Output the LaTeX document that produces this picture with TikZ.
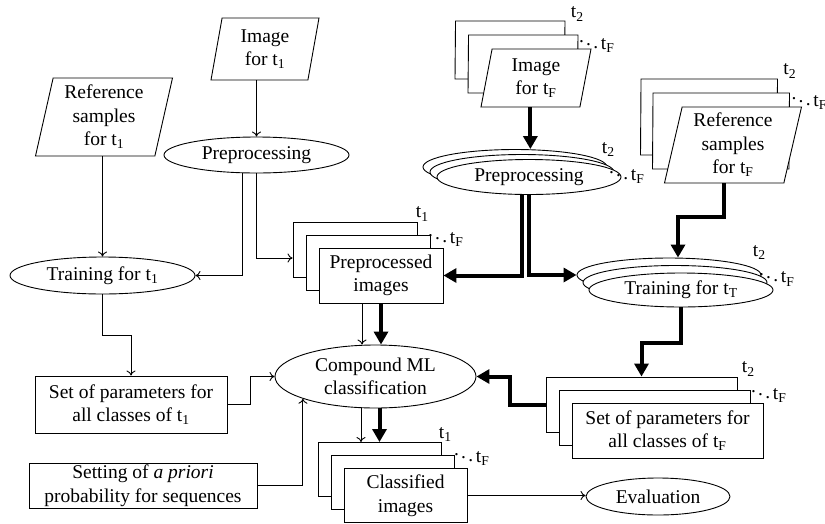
\documentclass[tikz,border=0pt]{standalone}
\usepackage{fontspec}
\setmainfont{Liberation Serif}
\usetikzlibrary{shapes.geometric,arrows.meta}

\begin{document}
\begin{tikzpicture}[
x=1pt,y=-1pt,
line width=0.9pt,
font=\fontsize{19.5}{23.5}\selectfont,
io/.style={draw,fill=white,trapezium,trapezium left angle=75,trapezium right angle=105,trapezium stretches body,align=center,inner sep=1pt},
proc/.style={draw,fill=white,ellipse,align=center,inner sep=0pt},
data/.style={draw,fill=white,rectangle,align=center,inner sep=1pt},
lbl/.style={inner sep=0pt},
arr/.style={draw,-{To[length=5pt,width=9pt]}},
bigarr/.style={draw,line width=4pt,-{Triangle[length=13pt,width=14pt]}}
]
\useasboundingbox (0,0) rectangle (825,523);

% single date t1
\node[io,minimum width=137pt,minimum height=78pt] (refA) at (104,117) {Reference\\samples\\for t\textsubscript{1}};
\node[io,minimum width=108pt,minimum height=62pt] (imgA) at (265,49) {Image\\for t\textsubscript{1}};
\node[proc,minimum width=185pt,minimum height=36pt] (preA) at (256.5,155) {Preprocessing};
\node[proc,minimum width=185pt,minimum height=37pt] (trA) at (102.5,275.5) {Training for t\textsubscript{1}};
\node[data,minimum width=192pt,minimum height=57pt] (setA) at (131,404.5) {Set of parameters for\\all classes of t\textsubscript{1}};
\node[data,minimum width=228pt,minimum height=45pt] (prior) at (143,485.5) {Setting of \textit{a priori}\\probability for sequences};

% stacks t2 ... tF
\node[io,minimum width=110pt,minimum height=58pt] (imgF3) at (510,50) {};
	\node[io,minimum width=110pt,minimum height=58pt] (imgF2) at (523,64) {};
		\node[io,minimum width=110pt,minimum height=58pt] (imgF) at (536,78) {Image\\for t\textsubscript{F}};
\node[proc,minimum width=184pt,minimum height=35pt] (preF3) at (515,167) {};
	\node[proc,minimum width=184pt,minimum height=35pt] (preF2) at (522,172) {};
		\node[proc,minimum width=184pt,minimum height=35pt] (preF) at (529,177) {Preprocessing};
\node[io,minimum width=137pt,minimum height=76pt] (refF3) at (709,117) {};
	\node[io,minimum width=137pt,minimum height=76pt] (refF2) at (721,131) {};
		\node[io,minimum width=137pt,minimum height=76pt] (refF) at (733,145) {Reference\\samples\\for t\textsubscript{F}};
\node[proc,minimum width=184pt,minimum height=34pt] (trT3) at (669,275) {};
	\node[proc,minimum width=184pt,minimum height=34pt] (trT2) at (675,282.5) {};
		\node[proc,minimum width=184pt,minimum height=34pt] (trT) at (681,290) {Training for t\textsubscript{T}};
\node[data,minimum width=191pt,minimum height=55pt] (spF3) at (641.5,404.5) {};
	\node[data,minimum width=191pt,minimum height=55pt] (spF2) at (654.5,417.5) {};
		\node[data,minimum width=191pt,minimum height=55pt] (spF) at (667.5,430.5) {Set of parameters for\\all classes of t\textsubscript{F}};

% stacks t1 ... tF
\node[data,minimum width=124pt,minimum height=55pt] (pp3) at (355,249.5) {};
	\node[data,minimum width=124pt,minimum height=55pt] (pp2) at (368,262.5) {};
		\node[data,minimum width=124pt,minimum height=55pt] (pp) at (381,275.5) {Preprocessed\\images};
\node[proc,minimum width=201pt,minimum height=63pt] (cml) at (375.5,376.5) {Compound ML\\classification};
\node[data,minimum width=123pt,minimum height=54pt] (cl3) at (379.5,469.5) {};
	\node[data,minimum width=123pt,minimum height=54pt] (cl2) at (392.5,482.5) {};
		\node[data,minimum width=123pt,minimum height=54pt] (cl) at (405.5,495.5) {Classified\\images};
\node[proc,minimum width=144pt,minimum height=37pt] (ev) at (658,496.5) {Evaluation};

% date labels
\node[lbl,anchor=south west] at ([xshift=5pt,yshift=-1pt]imgF3.top right corner) {t\textsubscript{2}};
\node[lbl,anchor=north west] at ([xshift=-1pt,yshift=2pt]imgF2.top right corner) {$\ddots$\hspace{1.5pt}t\textsubscript{F}};
\node[lbl,anchor=south west] at ([xshift=-6pt,yshift=10pt]preF3.east) {t\textsubscript{2}};
\node[lbl,anchor=west] at ([xshift=-7pt,yshift=-2pt]preF2.east) {$\ddots$\hspace{1.5pt}t\textsubscript{F}};
\node[lbl,anchor=south west] at ([xshift=5pt,yshift=0pt]refF3.top right corner) {t\textsubscript{2}};
\node[lbl,anchor=west] at ([xshift=0pt,yshift=-7pt]refF2.top right corner) {$\ddots$\hspace{1.5pt}t\textsubscript{F}};
\node[lbl,anchor=south west] at ([xshift=-9pt,yshift=15pt]trT3.east) {t\textsubscript{2}};
\node[lbl,anchor=west] at ([xshift=-10pt,yshift=6pt]trT2.east) {$\ddots$\hspace{1.5pt}t\textsubscript{F}};
\node[lbl,anchor=south west] at ([xshift=4pt]spF3.north east) {t\textsubscript{2}};
\node[lbl,anchor=west] at ([xshift=-1pt,yshift=-3pt]spF2.north east) {$\ddots$\hspace{1.5pt}t\textsubscript{F}};
\node[lbl,anchor=south west] at ([xshift=-2pt]pp3.north east) {t\textsubscript{1}};
\node[lbl,anchor=west] at ([xshift=-4pt,yshift=-2pt]pp2.north east) {$\ddots$\hspace{1.5pt}t\textsubscript{F}};
\node[lbl,anchor=south west] at ([xshift=-3pt]cl3.north east) {t\textsubscript{1}};
\node[lbl,anchor=west] at ([xshift=-2pt,yshift=-1pt]cl2.north east) {$\ddots$\hspace{1.5pt}t\textsubscript{F}};

% thin flow
\draw[arr] (preA.north |- imgA.bottom side) -- (preA.north);
\draw[arr] (trA.north |- refA.bottom side) -- (trA.north);
\draw[arr] ([xshift=-14pt]preA.south) |- (trA.east);
\draw[arr] (preA.south) |- ([yshift=-8.5pt]pp3.west);
\draw[arr] (trA.south) -- ++(0,41) -| (setA.north);
\draw[arr] (setA.east) -- ++(23,0) |- (cml.west);
\draw[arr] (prior.east) -| (cml.197);
\draw[arr] ([xshift=-19pt]pp.south) -- ([xshift=-19pt]pp.south |- cml.north);
\draw[arr] ([xshift=-18.5pt]cl3.north |- cml.south) -- ([xshift=-18.5pt]cl3.north);
\draw[arr] (cl.east) -- (cl.east -| ev.west);

% thick flow
\draw[bigarr] (imgF.bottom side) -- (imgF.bottom side |- preF3.north);
\draw[bigarr] ([xshift=-7pt]preF.south) |- (pp.east);
\draw[bigarr] ([xshift=-0.5pt]preF.south) |- (trT3.west);
\draw[bigarr] (refF.bottom side) -- ++(0,34) -| ([xshift=9pt]trT3.north);
\draw[bigarr] (trT.south) -- ++(0,36) -| (spF3.north);
\draw[bigarr] (spF3.west) -- ++(-36,0) |- (cml.east);
\draw[bigarr] (pp.south) -- (pp.south |- cml.north);
\draw[bigarr] (cl3.north |- cml.south) -- (cl3.north);

\end{tikzpicture}
\end{document}
